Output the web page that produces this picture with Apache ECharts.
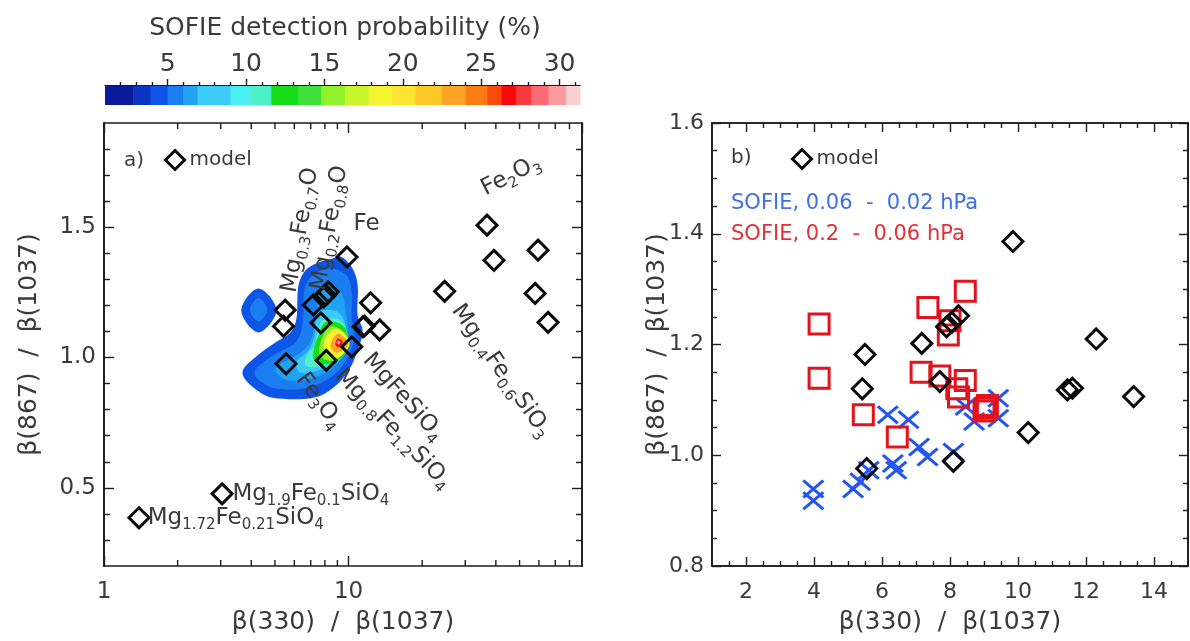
<!DOCTYPE html>
<html>
<head>
<meta charset="utf-8">
<script src="https://cdn.jsdelivr.net/npm/echarts@6/dist/echarts.min.js"></script>
<style>
html,body{margin:0;padding:0;background:#ffffff;}
#chart{width:1190px;height:641px;}
</style>
</head>
<body>
<div id="chart"></div>
<script>
// ---------------- data ----------------
// model points (shared by both panels)
const modelX = [1.39, 3.04, 5.42, 5.5, 5.55, 7.17, 7.7, 7.9, 8.05, 8.25, 8.1, 9.85, 10.3, 11.45, 11.6, 12.3, 13.4, 24.7, 36.8, 39.3, 57.9, 59.5, 65.4];
const modelY = [0.385, 0.477, 1.12, 1.182, 0.976, 1.202, 1.133, 1.232, 1.24, 1.252, 0.989, 1.386, 1.041, 1.118, 1.121, 1.21, 1.106, 1.254, 1.508, 1.373, 1.246, 1.412, 1.135];

// SOFIE 0.06 - 0.02 hPa (blue crosses)
const sofieHighX = [3.98, 3.98, 5.15, 5.36, 5.61, 6.17, 6.32, 6.42, 6.78, 7.09, 7.34, 8.1, 8.46, 8.71, 9.42, 9.42];
const sofieHighY = [0.939, 0.918, 0.939, 0.952, 0.973, 1.073, 0.985, 0.973, 1.064, 1.015, 0.997, 1.006, 1.088, 1.061, 1.103, 1.067];

// SOFIE 0.2 - 0.06 hPa (red squares)
const sofieLowX = [4.15, 4.15, 5.45, 6.45, 7.15, 7.35, 7.7, 7.95, 8.0, 8.2, 8.25, 8.45, 8.45, 9.0, 9.05, 9.1];
const sofieLowY = [1.237, 1.139, 1.073, 1.033, 1.15, 1.267, 1.143, 1.217, 1.243, 1.12, 1.105, 1.296, 1.135, 1.08, 1.085, 1.09];

// colour bar (detection probability, %)
const cbEdges = [1, 2.8, 3.9, 5.0, 6.0, 6.9, 9.0, 10.3, 11.6, 13.3, 14.8, 16.3, 17.8, 19.3, 20.8, 22.5, 24.0, 25.4, 26.3, 27.2, 28.2, 29.3, 30.4, 31.3];
const cbColors = ['#0c1a9c', '#0a35c4', '#0d55e6', '#1a7ef0', '#22a2f2', '#3ccaf6', '#48eef0', '#4ef0c8', '#18dc18', '#3fe03a', '#8ef22a', '#c8f42a', '#f4f430', '#fce430', '#fcc828', '#fca424', '#fc7c14', '#fc4a0c', '#f80808', '#fa3a3a', '#fc6a74', '#fc9a9c', '#fcd0d0'];
const cbTickLabels = [5, 10, 15, 20, 25, 30];

// filled contours of the SOFIE detection probability (level in %, outline in data units)
const contourLevels = [4.5, 5.5, 6.5, 8, 10.5, 12.5, 15.5, 18.5, 23, 26.8, 29.5, 4.5, 5.5];
const contourX = [
  [8.44, 9.27, 10.38, 10.89, 10.89, 11.41, 10.99, 10.0, 8.68, 7.19, 4.88, 4.24, 3.68, 4.24, 5.02, 5.79, 6.12, 6.24, 6.67, 7.53],
  [8.44, 9.81, 10.29, 10.29, 10.58, 10.19, 9.27, 8.05, 6.67, 5.02, 4.44, 4.12, 4.57, 5.36, 6.07, 6.48, 6.6, 7.12],
  [7.82, 9.27, 9.72, 9.91, 9.63, 8.85, 7.68, 6.36, 5.42, 5.02, 5.79, 6.67, 7.12, 7.39],
  [7.53, 9.1, 9.81, 9.72, 8.93, 7.53, 6.36, 6.12, 6.86, 7.26],
  [7.82, 9.27, 9.91, 9.72, 8.85, 7.53, 6.67, 6.74, 7.26, 7.46],
  [8.05, 9.45, 10.0, 9.54, 8.44, 7.32, 7.19, 7.53],
  [8.44, 9.63, 10.0, 9.63, 8.68, 7.68, 7.68],
  [8.85, 9.72, 10.1, 9.63, 8.76, 8.05, 7.97],
  [9.02, 9.72, 9.91, 9.45, 8.85, 8.44],
  [9.02, 9.45, 9.27, 8.85],
  [9.1, 9.27, 9.1, 8.93],
  [3.64, 4.28, 5.07, 4.28],
  [3.95, 4.28, 4.65, 4.28]
];
const contourY = [
  [1.377, 1.388, 1.342, 1.277, 1.162, 1.104, 1.038, 0.95, 0.885, 0.846, 0.846, 0.873, 0.942, 1.008, 1.058, 1.096, 1.15, 1.277, 1.335, 1.365],
  [1.342, 1.315, 1.258, 1.15, 1.092, 1.027, 0.958, 0.912, 0.881, 0.881, 0.904, 0.942, 0.988, 1.027, 1.058, 1.123, 1.258, 1.315],
  [1.258, 1.25, 1.181, 1.096, 1.027, 0.969, 0.931, 0.912, 0.919, 0.958, 0.996, 1.035, 1.085, 1.181],
  [1.173, 1.173, 1.104, 1.027, 0.981, 0.95, 0.942, 0.981, 1.027, 1.085],
  [1.142, 1.142, 1.085, 1.019, 0.981, 0.965, 0.969, 1.008, 1.046, 1.096],
  [1.135, 1.123, 1.065, 1.008, 0.977, 0.981, 1.027, 1.085],
  [1.119, 1.096, 1.058, 1.019, 0.988, 1.004, 1.058],
  [1.112, 1.085, 1.054, 1.019, 0.996, 1.019, 1.065],
  [1.092, 1.073, 1.05, 1.027, 1.019, 1.046],
  [1.073, 1.062, 1.042, 1.046],
  [1.065, 1.058, 1.05, 1.058],
  [1.181, 1.265, 1.181, 1.096],
  [1.181, 1.228, 1.181, 1.138]
];

// annotations, panel a (text, anchor in data units, angle in degrees)
const annoText = ['a)', 'Mg{s|0.3}Fe{s|0.7}O', 'Mg{s|0.2}Fe{s|0.8}O', 'Fe', 'Fe{s|2}O{s|3}', 'Mg{s|0.4}Fe{s|0.6}SiO{s|3}', 'MgFeSiO{s|4}', 'Mg{s|0.8}Fe{s|1.2}SiO{s|4}', 'Fe{s|3}O{s|4}', 'Mg{s|1.9}Fe{s|0.1}SiO{s|4}', 'Mg{s|1.72}Fe{s|0.21}SiO{s|4}'];
const annoX = [1.208, 5.73, 7.54, 10.48, 35.4, 27.5, 11.85, 9.1, 6.36, 3.35, 1.51];
const annoY = [1.754, 1.25, 1.258, 1.512, 1.642, 1.195, 1.004, 0.942, 0.931, 0.477, 0.385];
const annoAngle = [0, 80, 80, 0, 27, -55, -48, -46, -54, 0, 0];

// annotations, panel b
const noteText = ['b)', 'SOFIE, 0.06  -  0.02 hPa', 'SOFIE, 0.2  -  0.06 hPa'];
const noteX = [1.56, 1.56, 1.56];
const noteY = [1.537, 1.454, 1.398];

// axis tick labels
const leftYLabels = [0.5, 1.0, 1.5];
const rightXLabels = [2, 4, 6, 8, 10, 12, 14];
const rightYLabels = [0.8, 1.0, 1.2, 1.4, 1.6];
const leftXMinor = [2, 3, 4, 5, 6, 7, 8, 9, 20, 30, 40, 50, 60, 70, 80];

// ---------------- styling / layout ----------------
const FONT = 'DejaVu Sans';
const TXT = '#3a3a3a';
const INK = '#1c1c1c';
const L = {xmin: 1, xmax: 90, ymin: 0.2, ymax: 1.9};
const R = {xmin: 1, xmax: 15, ymin: 0.8, ymax: 1.6};

const leftYMinor = [];
for (let k = 3; k <= 18; k++) if (k % 5 !== 0) leftYMinor.push(k / 10);
const rightXMinor = [];
for (let k = 3; k <= 29; k++) if (k % 4 !== 0) rightXMinor.push(k / 2);
const rightYMinor = [];
for (let k = 17; k <= 31; k++) if (k % 4 !== 0) rightYMinor.push(k / 20);
const cbMinor = [];
for (let k = 2; k <= 31; k++) if (k % 5 !== 0) cbMinor.push(k);

function colorFor(v) {
  for (let i = 0; i < cbColors.length; i++) if (v >= cbEdges[i] && v < cbEdges[i + 1]) return cbColors[i];
  return cbColors[cbColors.length - 1];
}

function axis(o) {
  const a = {
    type: o.type || 'value', gridIndex: o.grid, position: o.pos,
    min: o.min, max: o.max, silent: true, z: 5,
    axisLine: {show: true, onZero: false, lineStyle: {color: INK, width: 1.6}},
    splitLine: {show: false},
    axisTick: {show: true, inside: o.inside !== false, length: o.len, lineStyle: {color: INK, width: 1.4}},
    axisLabel: {show: false}
  };
  if (o.type === 'log') a.logBase = 10;
  if (o.ticks) a.axisTick.customValues = o.ticks;
  if (o.labels || o.logLabels) {
    a.axisLabel = {show: true, margin: o.margin, fontFamily: FONT, fontSize: o.fs, color: TXT, showMaxLabel: !o.logLabels};
    if (o.labels) a.axisLabel.customValues = o.labels;
    if (o.fmt) a.axisLabel.formatter = o.fmt;
  }
  if (o.name) {
    a.name = o.name; a.nameLocation = 'middle'; a.nameGap = o.gap;
    a.nameMoveOverlap = false;
    a.nameTextStyle = {fontFamily: FONT, fontSize: 25, color: TXT};
  }
  return a;
}
const f1 = v => Number(v).toFixed(1);

const xAxes = [
  axis({type: 'log', grid: 0, pos: 'bottom', min: L.xmin, max: L.xmax, len: 10, logLabels: true, margin: 15, fs: 23, name: 'β(330)  /  β(1037)', gap: 44}),
  axis({type: 'log', grid: 0, pos: 'top', min: L.xmin, max: L.xmax, len: 10}),
  axis({grid: 1, pos: 'bottom', min: R.xmin, max: R.xmax, len: 9, ticks: rightXLabels, labels: rightXLabels, margin: 15, fs: 22, name: 'β(330)  /  β(1037)', gap: 44}),
  axis({grid: 1, pos: 'bottom', min: R.xmin, max: R.xmax, len: 5, ticks: rightXMinor}),
  axis({grid: 1, pos: 'top', min: R.xmin, max: R.xmax, len: 9, ticks: rightXLabels}),
  axis({grid: 1, pos: 'top', min: R.xmin, max: R.xmax, len: 5, ticks: rightXMinor}),
  axis({grid: 2, pos: 'top', min: cbEdges[0], max: cbEdges[cbEdges.length - 1], len: 6, inside: false, ticks: cbTickLabels, labels: cbTickLabels, margin: 8, fs: 25}),
  axis({grid: 2, pos: 'top', min: cbEdges[0], max: cbEdges[cbEdges.length - 1], len: 3, inside: false, ticks: cbMinor})
];
xAxes[6].axisLine.lineStyle.width = 1;
xAxes[7].axisLine.lineStyle.width = 1;

const yAxes = [
  axis({grid: 0, pos: 'left', min: L.ymin, max: L.ymax, len: 10, ticks: leftYLabels, labels: leftYLabels, margin: 8, fs: 23, fmt: f1, name: 'β(867)  /  β(1037)', gap: 62}),
  axis({grid: 0, pos: 'left', min: L.ymin, max: L.ymax, len: 6, ticks: leftYMinor}),
  axis({grid: 0, pos: 'right', min: L.ymin, max: L.ymax, len: 10, ticks: leftYLabels}),
  axis({grid: 0, pos: 'right', min: L.ymin, max: L.ymax, len: 6, ticks: leftYMinor}),
  axis({grid: 1, pos: 'left', min: R.ymin, max: R.ymax, len: 9, ticks: rightYLabels, labels: rightYLabels, margin: 8, fs: 22, fmt: f1, name: 'β(867)  /  β(1037)', gap: 42}),
  axis({grid: 1, pos: 'left', min: R.ymin, max: R.ymax, len: 5, ticks: rightYMinor}),
  axis({grid: 1, pos: 'right', min: R.ymin, max: R.ymax, len: 9, ticks: rightYLabels}),
  axis({grid: 1, pos: 'right', min: R.ymin, max: R.ymax, len: 5, ticks: rightYMinor}),
  {type: 'value', gridIndex: 2, min: 0, max: 1, show: false}
];

const zip = (xs, ys) => xs.map((x, i) => [x, ys[i]]);
const hollow = (c, w) => ({color: 'rgba(0,0,0,0)', borderColor: c, borderWidth: w, opacity: 1});

function textEl(p, text, angle, fill, size) {
  return {
    type: 'text', x: p[0], y: p[1], rotation: angle * Math.PI / 180,
    style: {
      text: text, fill: fill, font: size + 'px "' + FONT + '"', fontSize: size, fontFamily: FONT,
      align: 'left', verticalAlign: 'middle', textAlign: 'left', textVerticalAlign: 'middle', lineHeight: 30,
      rich: {s: {font: '15px "' + FONT + '"', fontSize: 15, fontFamily: FONT, lineHeight: 15, verticalAlign: 'bottom', fill: fill}}
    }
  };
}

const series = [
  { // filled probability contours
    type: 'custom', name: 'contours', xAxisIndex: 0, yAxisIndex: 0, silent: true, z: 1,
    data: contourLevels.map((lv, i) => [contourX[i][0], contourY[i][0], i]),
    renderItem: function (params, api) {
      const i = api.value(2);
      const pts = contourX[i].map((x, k) => api.coord([x, contourY[i][k]]));
      return {type: 'polygon', shape: {points: pts, smooth: 0.35}, style: {fill: colorFor(contourLevels[i]), stroke: null}};
    }
  },
  { // log-axis minor ticks (bottom and top)
    type: 'custom', name: 'minorticks', xAxisIndex: 0, yAxisIndex: 0, silent: true, z: 6,
    data: leftXMinor.map(v => [v, 1]),
    renderItem: function (params, api) {
      const v = api.value(0);
      const b = api.coord([v, L.ymin]);
      const t = api.coord([v, L.ymax]);
      const st = {stroke: INK, lineWidth: 1.4};
      return {type: 'group', children: [
        {type: 'line', shape: {x1: b[0], y1: b[1], x2: b[0], y2: b[1] - 6}, style: st},
        {type: 'line', shape: {x1: t[0], y1: t[1], x2: t[0], y2: t[1] + 6}, style: st}
      ]};
    }
  },
  {
    type: 'scatter', name: 'model', xAxisIndex: 0, yAxisIndex: 0, z: 4,
    symbol: 'diamond', symbolSize: 20, itemStyle: hollow('#0a0a0a', 3),
    emphasis: {disabled: true}, data: zip(modelX, modelY)
  },
  {
    type: 'custom', name: 'labelsA', xAxisIndex: 0, yAxisIndex: 0, silent: true, z: 7,
    data: annoText.map((t, i) => [annoX[i], annoY[i], i]),
    renderItem: function (params, api) {
      const i = api.value(2);
      const p = api.coord([annoX[i], annoY[i]]);
      return textEl(p, annoText[i], annoAngle[i], TXT, i === 0 ? 20 : 23);
    }
  },
  {
    type: 'scatter', name: 'SOFIE, 0.06 - 0.02 hPa', xAxisIndex: 2, yAxisIndex: 4, z: 3,
    symbol: 'path://M0,0L16,14M16,0L0,14', symbolSize: [20, 17], itemStyle: hollow('#2356f0', 3),
    emphasis: {disabled: true}, data: zip(sofieHighX, sofieHighY)
  },
  {
    type: 'scatter', name: 'SOFIE, 0.2 - 0.06 hPa', xAxisIndex: 2, yAxisIndex: 4, z: 3,
    symbol: 'rect', symbolSize: 20, itemStyle: hollow('#e3121b', 3),
    emphasis: {disabled: true}, data: zip(sofieLowX, sofieLowY)
  },
  {
    type: 'scatter', name: 'model', xAxisIndex: 2, yAxisIndex: 4, z: 4,
    symbol: 'diamond', symbolSize: 20, itemStyle: hollow('#0a0a0a', 3),
    emphasis: {disabled: true}, data: zip(modelX, modelY)
  },
  {
    type: 'custom', name: 'labelsB', xAxisIndex: 2, yAxisIndex: 4, silent: true, z: 7,
    data: noteText.map((t, i) => [noteX[i], noteY[i], i]),
    renderItem: function (params, api) {
      const i = api.value(2);
      const p = api.coord([noteX[i], noteY[i]]);
      const fill = i === 1 ? '#3f6fe6' : (i === 2 ? '#e0323a' : TXT);
      return textEl(p, noteText[i], 0, fill, i === 0 ? 20 : 21);
    }
  },
  { // colour bar
    type: 'custom', name: 'colorbar', xAxisIndex: 6, yAxisIndex: 8, silent: true, z: 1,
    data: cbColors.map((c, i) => [cbEdges[i], 0, cbEdges[i + 1], i]),
    renderItem: function (params, api) {
      const i = api.value(3);
      const p0 = api.coord([api.value(0), 0]);
      const p1 = api.coord([api.value(2), 1]);
      return {type: 'rect', shape: {x: p0[0], y: p1[1], width: p1[0] - p0[0] + 0.5, height: p0[1] - p1[1]}, style: {fill: cbColors[i], stroke: null}};
    }
  }
];

const legendCommon = {
  data: ['model'], icon: 'diamond', itemWidth: 19, itemHeight: 19, itemGap: 4, padding: 0,
  itemStyle: {color: 'rgba(0,0,0,0)', borderColor: '#0a0a0a', borderWidth: 3, opacity: 1},
  textStyle: {fontFamily: FONT, fontSize: 20, color: TXT},
  selectedMode: false
};

const option = {
  animation: false,
  backgroundColor: '#ffffff',
  textStyle: {fontFamily: FONT},
  grid: [
    {left: 104, top: 123, width: 478, height: 443, containLabel: false, outerBoundsMode: 'none'},
    {left: 712, top: 123, width: 476, height: 443, containLabel: false, outerBoundsMode: 'none'},
    {left: 105, top: 85, width: 475, height: 20, containLabel: false, outerBoundsMode: 'none'}
  ],
  legend: [
    Object.assign({left: 164, top: 149}, legendCommon),
    Object.assign({left: 791, top: 148}, legendCommon)
  ],
  graphic: [
    {type: 'text', x: 345, y: 28, silent: true,
     style: {text: 'SOFIE detection probability (%)', font: '25px "' + FONT + '"', fill: TXT, textAlign: 'center', textVerticalAlign: 'middle', align: 'center', verticalAlign: 'middle'}}
  ],
  xAxis: xAxes,
  yAxis: yAxes,
  series: series
};

const chart = echarts.init(document.getElementById('chart'), null, {renderer: 'canvas'});
chart.setOption(option);
</script>
</body>
</html>
